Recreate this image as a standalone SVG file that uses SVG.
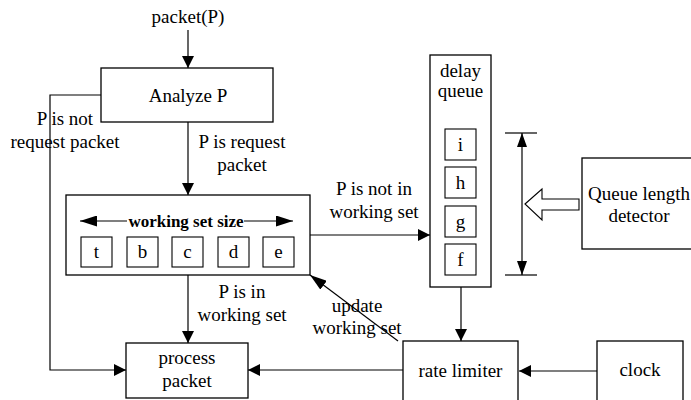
<svg xmlns="http://www.w3.org/2000/svg" width="691" height="400" viewBox="0 0 691 400">
  <style>
    .box { fill: #fff; stroke: #000; stroke-width: 1.3; }
    .cell { fill: #fff; stroke: #000; stroke-width: 1.1; }
    .line { fill: none; stroke: #000; stroke-width: 1.2; }
    text { font-family: "Liberation Serif", "Times New Roman", serif; font-size: 19px; fill: #000; }
    .mid { text-anchor: middle; }
    .bold { font-weight: bold; font-size: 17px; }
  </style>
  <defs>
    <marker id="arrow" markerUnits="userSpaceOnUse" markerWidth="12" markerHeight="12" refX="12" refY="6" orient="auto-start-reverse">
      <path d="M0,0 L12,6 L0,12 z" fill="#000"/>
    </marker>
    <marker id="arrowLong" markerUnits="userSpaceOnUse" markerWidth="17" markerHeight="11" refX="17" refY="5.5" orient="auto-start-reverse">
      <path d="M0,0 L17,5.5 L0,11 z" fill="#000"/>
    </marker>
    <marker id="arrowSlim" markerUnits="userSpaceOnUse" markerWidth="14" markerHeight="10" refX="14" refY="5" orient="auto-start-reverse">
      <path d="M0,0 L14,5 L0,10 z" fill="#000"/>
    </marker>
  </defs>

  <!-- connectors -->
  <g id="connectors">
    <line class="line" x1="188" y1="30" x2="188" y2="68" marker-end="url(#arrow)"/>
    <line class="line" x1="188" y1="122" x2="188" y2="195" marker-end="url(#arrow)"/>
    <polyline class="line" points="101,95 50,95 50,370 126,370" marker-end="url(#arrow)"/>
    <line class="line" x1="188" y1="275" x2="188" y2="343" marker-end="url(#arrow)"/>
    <line class="line" x1="310" y1="235" x2="430" y2="235" marker-end="url(#arrow)"/>
    <line class="line" x1="461" y1="287" x2="461" y2="341" marker-end="url(#arrow)"/>
    <line class="line" x1="403" y1="370" x2="248" y2="370" marker-end="url(#arrow)"/>
    <line class="line" x1="597" y1="371" x2="519" y2="371" marker-end="url(#arrow)"/>
    <line class="line" x1="398" y1="341" x2="310" y2="275" marker-end="url(#arrowLong)"/>
    <!-- queue length span -->
    <line class="line" x1="522" y1="133" x2="522" y2="275" marker-start="url(#arrowSlim)" marker-end="url(#arrowSlim)"/>
    <line class="line" x1="505" y1="133" x2="537" y2="133"/>
    <line class="line" x1="505" y1="275" x2="537" y2="275"/>
    <!-- hollow arrow from detector -->
    <polygon points="525,204 542,189 542,199 579,199 579,210 542,210 542,220" fill="#fff" stroke="#000" stroke-width="1.1"/>
  </g>

  <g id="packet-in">
    <text class="mid" x="188" y="23">packet(P)</text>
  </g>

  <g id="analyze">
    <rect class="box" x="101" y="68" width="172" height="54"/>
    <text class="mid" x="188" y="102">Analyze P</text>
  </g>

  <g id="label-not-request">
    <text class="mid" x="65" y="125">P is not</text>
    <text class="mid" x="65" y="148">request packet</text>
  </g>

  <g id="label-request">
    <text class="mid" x="242" y="148">P is request</text>
    <text class="mid" x="242" y="171">packet</text>
  </g>

  <g id="working-set">
    <rect class="box" x="66" y="195" width="244" height="80"/>
    <line class="line" x1="127" y1="221" x2="80" y2="221" marker-end="url(#arrowLong)"/>
    <line class="line" x1="244" y1="221" x2="293" y2="221" marker-end="url(#arrowLong)"/>
    <text class="mid bold" x="186" y="227">working set size</text>
    <rect class="cell" x="81" y="237" width="31" height="30"/>
    <rect class="cell" x="127" y="237" width="31" height="30"/>
    <rect class="cell" x="172" y="237" width="31" height="30"/>
    <rect class="cell" x="218" y="237" width="31" height="30"/>
    <rect class="cell" x="263" y="237" width="31" height="30"/>
    <text class="mid" x="96.5" y="258">t</text>
    <text class="mid" x="142.5" y="258">b</text>
    <text class="mid" x="187.5" y="258">c</text>
    <text class="mid" x="233.5" y="258">d</text>
    <text class="mid" x="278.5" y="258">e</text>
  </g>

  <g id="label-in-set">
    <text class="mid" x="242" y="298">P is in</text>
    <text class="mid" x="242" y="321">working set</text>
  </g>

  <g id="label-not-in-set">
    <text class="mid" x="374" y="195">P is not in</text>
    <text class="mid" x="374" y="218">working set</text>
  </g>

  <g id="label-update">
    <text class="mid" x="357" y="312">update</text>
    <text class="mid" x="357" y="334">working set</text>
  </g>

  <g id="process-packet">
    <rect class="box" x="126" y="343" width="122" height="55"/>
    <text class="mid" x="187" y="364">process</text>
    <text class="mid" x="187" y="387">packet</text>
  </g>

  <g id="delay-queue">
    <rect class="box" x="430" y="55" width="61" height="232"/>
    <text class="mid" x="460.5" y="77">delay</text>
    <text class="mid" x="460.5" y="97">queue</text>
    <rect class="cell" x="445" y="129" width="31" height="31"/>
    <rect class="cell" x="445" y="167" width="31" height="31"/>
    <rect class="cell" x="445" y="206" width="31" height="31"/>
    <rect class="cell" x="445" y="244" width="31" height="31"/>
    <text class="mid" x="460.5" y="151">i</text>
    <text class="mid" x="460.5" y="189">h</text>
    <text class="mid" x="460.5" y="228">g</text>
    <text class="mid" x="460.5" y="266">f</text>
  </g>

  <g id="queue-length-detector">
    <rect class="box" x="582" y="158" width="115" height="91"/>
    <text class="mid" x="639" y="200">Queue length</text>
    <text class="mid" x="639" y="222">detector</text>
  </g>

  <g id="rate-limiter">
    <rect class="box" x="403" y="341" width="115" height="64"/>
    <text class="mid" x="460.5" y="377">rate limiter</text>
  </g>

  <g id="clock">
    <rect class="box" x="597" y="341" width="86" height="64"/>
    <text class="mid" x="640" y="376">clock</text>
  </g>
</svg>
